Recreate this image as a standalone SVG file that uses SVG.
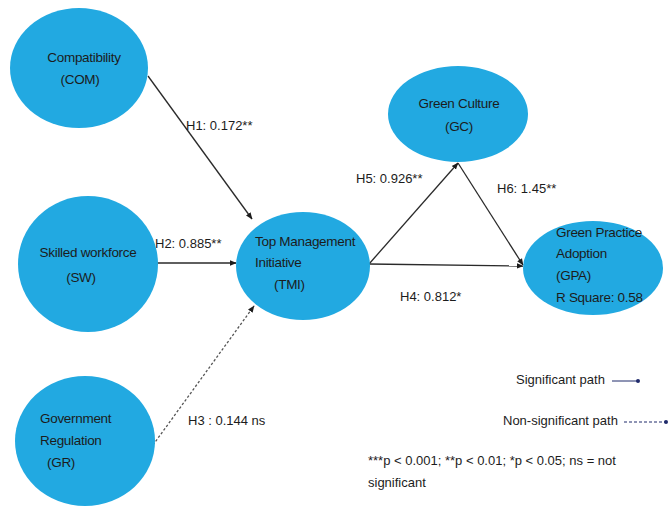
<svg xmlns="http://www.w3.org/2000/svg" width="670" height="509" viewBox="0 0 670 509">
  <style>
    .node { fill: #22a9e1; stroke: none; }
    .lbl { font-family: "Liberation Sans", Arial, sans-serif; font-size: 13.5px; letter-spacing: -0.3px; fill: #1c1c1c; }
    .elbl { font-family: "Liberation Sans", Arial, sans-serif; font-size: 13px; fill: #1c1c1c; }
    .sig { stroke: #2a2a2a; stroke-width: 1.3; fill: none; marker-end: url(#arrow); }
    .ns { stroke: #555; stroke-width: 1.3; fill: none; stroke-dasharray: 2.5 2; marker-end: url(#arrow); }
  </style>
  <defs>
    <marker id="arrow" viewBox="0 0 10 10" refX="9" refY="5" markerWidth="7" markerHeight="7" orient="auto" markerUnits="userSpaceOnUse">
      <path d="M0,1 L10,5 L0,9 Z" fill="#1c1c1c"/>
    </marker>
    <marker id="dot" viewBox="0 0 10 10" refX="5" refY="5" markerWidth="4" markerHeight="4" orient="auto" markerUnits="userSpaceOnUse">
      <circle cx="5" cy="5" r="5" fill="#1f2a6b"/>
    </marker>
  </defs>
  <rect width="670" height="509" fill="#ffffff"/>

  <!-- connectors -->
  <g id="connectors">
    <line class="sig" x1="148" y1="76" x2="252" y2="219"/>
    <line class="sig" x1="157" y1="263" x2="236" y2="263"/>
    <line class="ns" x1="153" y1="445" x2="254" y2="306"/>
    <line class="sig" x1="369" y1="264" x2="523" y2="266"/>
    <line class="sig" x1="369" y1="264" x2="458" y2="163"/>
    <line class="sig" x1="458" y1="163" x2="523" y2="265"/>
    <text class="elbl" x="186" y="130">H1: 0.172**</text>
    <text class="elbl" x="155" y="248">H2: 0.885**</text>
    <text class="elbl" x="188" y="425">H3 : 0.144 ns</text>
    <text class="elbl" x="356" y="183">H5: 0.926**</text>
    <text class="elbl" x="497" y="193">H6: 1.45**</text>
    <text class="elbl" x="400" y="301">H4: 0.812*</text>
  </g>

  <g id="COM">
    <ellipse class="node" cx="79" cy="68" rx="69" ry="60"/>
    <text class="lbl" x="84" y="62" text-anchor="middle">Compatibility</text>
    <text class="lbl" x="80" y="84" text-anchor="middle">(COM)</text>
  </g>
  <g id="SW">
    <ellipse class="node" cx="88" cy="264" rx="70" ry="68"/>
    <text class="lbl" x="88" y="257" text-anchor="middle">Skilled workforce</text>
    <text class="lbl" x="81" y="282" text-anchor="middle">(SW)</text>
  </g>
  <g id="GR">
    <ellipse class="node" cx="85" cy="441" rx="70" ry="65"/>
    <text class="lbl" x="40" y="423">Government</text>
    <text class="lbl" x="40" y="445">Regulation</text>
    <text class="lbl" x="47" y="467">(GR)</text>
  </g>
  <g id="TMI">
    <ellipse class="node" cx="303" cy="266" rx="67" ry="54"/>
    <text class="lbl" x="255" y="246">Top Management</text>
    <text class="lbl" x="255" y="267">Initiative</text>
    <text class="lbl" x="274" y="289">(TMI)</text>
  </g>
  <g id="GC">
    <ellipse class="node" cx="458" cy="114" rx="70" ry="48"/>
    <text class="lbl" x="459" y="108" text-anchor="middle">Green Culture</text>
    <text class="lbl" x="459" y="131" text-anchor="middle">(GC)</text>
  </g>
  <g id="GPA">
    <ellipse class="node" cx="593" cy="268" rx="70" ry="47"/>
    <text class="lbl" x="556" y="237">Green Practice</text>
    <text class="lbl" x="556" y="258">Adoption</text>
    <text class="lbl" x="556" y="280">(GPA)</text>
    <text class="lbl" x="556" y="302">R Square: 0.58</text>
  </g>

  <!-- legend -->
  <g id="legend">
    <text class="elbl" x="516" y="384">Significant path</text>
    <line x1="612" y1="381" x2="638" y2="381" stroke="#1f2a6b" stroke-width="1" marker-end="url(#dot)"/>
    <text class="elbl" x="503" y="425">Non-significant path</text>
    <line x1="624" y1="422" x2="666" y2="422" stroke="#1f2a6b" stroke-width="1" stroke-dasharray="3 2" marker-end="url(#dot)"/>
    <text class="elbl" x="368" y="465">***p &lt; 0.001; **p &lt; 0.01; *p &lt; 0.05; ns = not</text>
    <text class="elbl" x="368" y="487">significant</text>
  </g>
</svg>
